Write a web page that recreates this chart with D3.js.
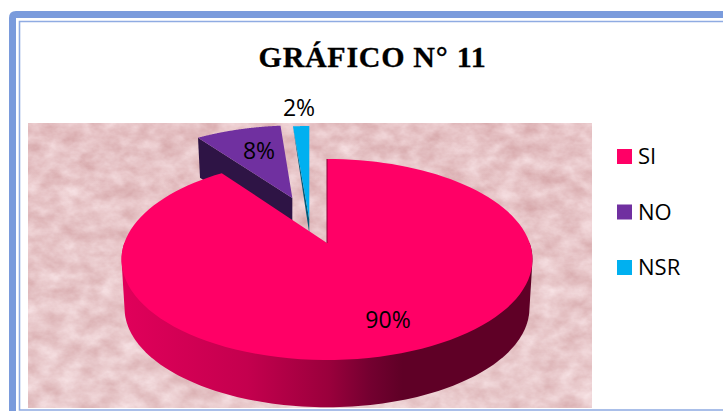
<!DOCTYPE html>
<html><head><meta charset="utf-8">
<script src="https://cdnjs.cloudflare.com/ajax/libs/d3/7.8.5/d3.min.js"></script>
<style>html,body{margin:0;padding:0;background:#fff;overflow:hidden}svg{display:block}</style>
</head><body><svg id="c" width="723" height="411"></svg>
<script>
const categories = ["SI","NO","NSR"];
const values = [90, 8.4, 1.6];
const colors = ["#ff0066","#7030a0","#00b0f0"];
const sideColors = ["#5f0026","#2e1445","#005a78"];
const titleText = "GRÁFICO N° 11";

const svg = d3.select("#c");
const defs = svg.append("defs");

// texture
const f = defs.append("filter").attr("id","tex").attr("x",0).attr("y",0).attr("width",1).attr("height",1)
  .attr("color-interpolation-filters","sRGB");
f.append("feTurbulence").attr("type","fractalNoise").attr("baseFrequency","0.05 0.07").attr("numOctaves",4).attr("seed",7);
f.append("feColorMatrix").attr("type","matrix").attr("values",
  "0.16 0 0 0 0.82  0.28 0 0 0 0.62  0.28 0 0 0 0.63  0 0 0 0 1");
const sheen = defs.append("linearGradient").attr("id","sheen").attr("x1",0).attr("x2",0).attr("y1",0).attr("y2",1);
sheen.append("stop").attr("offset",0).attr("stop-color","#fff").attr("stop-opacity",0);
sheen.append("stop").attr("offset",1).attr("stop-color","#fff").attr("stop-opacity",0.14);

// gradient for the rim
const g = defs.append("linearGradient").attr("id","rim").attr("gradientUnits","userSpaceOnUse")
  .attr("x1",125).attr("x2",533).attr("y1",0).attr("y2",0);
[[0,"#e0005a"],[.3,"#c4004e"],[.5,"#9a003c"],[.6,"#740030"],[.68,"#5f0026"],[1,"#5f0026"]]
  .forEach(s=>g.append("stop").attr("offset",s[0]).attr("stop-color",s[1]));

// frame
svg.append("path").attr("d","M723,14.5H16Q12.5,14.5 12.5,18V411").attr("fill","none").attr("stroke","#7a9bdc").attr("stroke-width",7);
svg.append("path").attr("d","M723,21.5H19.5V410H723").attr("fill","none").attr("stroke","#8fabe2").attr("stroke-width",1.6);

// textured panel
svg.append("rect").attr("x",28).attr("y",123).attr("width",564).attr("height",285).attr("filter","url(#tex)");
svg.append("rect").attr("x",28).attr("y",123).attr("width",564).attr("height",285).attr("fill","url(#sheen)");

// title
svg.append("text").attr("x",372.5).attr("y",67).attr("text-anchor","middle")
  .attr("font-family","'Liberation Serif',serif").attr("font-weight",700).attr("font-size",30)
  .attr("letter-spacing",0.7).attr("stroke","#000").attr("stroke-width",0.3).attr("fill","#000").text(titleText);

// perspective projection of the pie plane
const cx=327, cy=243, A=202.7, B=97.8, k=0.164;
const proj=(u,v,s=1,dy=0)=>{const w=1+k*v;return [cx+s*A*u/w, cy+dy-s*B*v/w];};
const TAU=Math.PI*2;
const arcs=d3.pie().sort(null).startAngle(0).endAngle(TAU)(values);
const line=d3.line();
const rim=(a0,a1,off,s,dy)=>d3.range(0,121).map(i=>{
  const t=a0+(a1-a0)*i/120;
  return proj(off[0]+Math.sin(t),off[1]+Math.cos(t),s,dy);
});

const off=[[0,0],[-0.185,0.498],[-0.1086,0.488]];
const tip=[[0,0],[-0.185,0.498],[-0.091,0.25]];
const depth=49, lowScale=0.985;

// NSR wedge
{
  const a=arcs[2], s=a.startAngle-TAU, e=a.endAngle-TAU;
  const top=rim(s,e,off[2],1,0);
  const t=proj(tip[2][0],tip[2][1]);
  svg.append("path").attr("d",line([top[0],t,[t[0],t[1]+14]])+"Z").attr("fill",sideColors[2]);
  svg.append("path").attr("d",line([t,...top])+"Z").attr("fill",colors[2]);
}
// NO wedge
{
  const a=arcs[1], s=a.startAngle-TAU, e=a.endAngle-TAU;
  const top=rim(s,e,off[1],1,0);
  const t=proj(off[1][0],off[1][1]);
  const d=40, c=top[0];
  svg.append("path").attr("d",line([c,t,[t[0],t[1]+d],[c[0]+2,c[1]+d]])+"Z").attr("fill",sideColors[1]);
  svg.append("path").attr("d",line([t,...top])+"Z").attr("fill",colors[1]);
}
// SI wedge
{
  const a=arcs[0];
  const upper=rim(Math.PI*0.5,Math.PI*1.5,off[0],1,0);
  const lower=rim(Math.PI*0.5,Math.PI*1.5,off[0],lowScale,depth);
  svg.append("path").attr("d",line(d3.polygonHull([...upper,...lower]))+"Z").attr("fill","url(#rim)");
  const t=proj(0,0);
  svg.append("path").attr("d",line([t,...rim(a.startAngle,a.endAngle,off[0],1,0)])+"Z").attr("fill",colors[0]);
  svg.append("path").attr("d",line([proj(0,1),t])).attr("stroke","#8a0036").attr("stroke-width",1).attr("fill","none");
}

// data labels
const labelFont="'Open Sans',sans-serif";
const labelPos=[[388,328],[259,159],[299,116]];
arcs.forEach((a,i)=>svg.append("text").attr("x",labelPos[i][0]).attr("y",labelPos[i][1]).attr("text-anchor","middle")
  .attr("font-family",labelFont).attr("font-size",23).attr("fill","#000").text(Math.round(a.value)+"%"));

// legend
const legY=d3.scalePoint().domain(categories).range([149,260]);
const leg=svg.selectAll("g.leg").data(categories).join("g").attr("class","leg")
  .attr("transform",d=>`translate(617,${legY(d)})`);
leg.append("rect").attr("width",15).attr("height",15).attr("fill",(d,i)=>colors[i]);
leg.append("text").attr("x",21).attr("y",15).attr("font-family",labelFont).attr("font-size",22).attr("fill","#000").text(d=>d);
</script></body></html>
